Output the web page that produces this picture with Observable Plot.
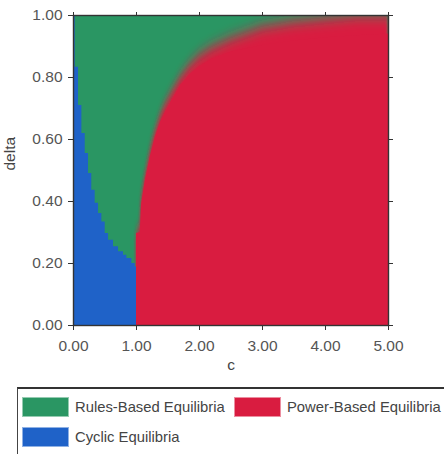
<!DOCTYPE html>
<html>
<head>
<meta charset="utf-8">
<script src="https://cdn.jsdelivr.net/npm/d3@7"></script>
<script src="https://cdn.jsdelivr.net/npm/@observablehq/plot@0.6"></script>
<style>
  html, body { margin: 0; padding: 0; background: #fff; }
  body { width: 444px; height: 454px; position: relative; overflow: hidden; font-family: "Liberation Sans", Arial, sans-serif; }
  #chart { position: absolute; left: 0; top: 0; }
  #legend { position: absolute; left: 17px; top: 387px; width: 460px; height: 90px; border: 1px solid #444; border-top: 2px solid #333; box-sizing: border-box; }
  .item { position: absolute; display: flex; align-items: center; font-size: 14.8px; color: #444; white-space: nowrap; }
  .sw { width: 47px; height: 20px; margin-right: 6px; box-sizing: border-box; border: 1px solid rgba(255,255,255,0.5); }
</style>
</head>
<body>
<div id="chart"></div>
<div id="legend"></div>
<script>
// ---- data ----
const xTicks = [0, 1, 2, 3, 4, 5];
const yTicks = [0, 0.2, 0.4, 0.6, 0.8, 1.0];

// Cyclic region: upper edge (step) for c in [0,1]
const blueC     = [0, 0.027, 0.08, 0.133, 0.186, 0.238, 0.29, 0.344, 0.397, 0.45, 0.503, 0.556, 0.635, 0.714, 0.794, 0.847, 0.926, 0.98, 1.0];
const blueDelta = [1.0, 0.833, 0.71, 0.619, 0.555, 0.49, 0.436, 0.394, 0.361, 0.334, 0.297, 0.275, 0.254, 0.238, 0.227, 0.216, 0.2, 0.189, 0.189];

// Power-based region: solid edge and fuzzy (fade-centre) edge for c in [1,5]
const redC      = [1.0, 1.06, 1.08, 1.14, 1.22, 1.30, 1.38, 1.45, 1.6, 1.7, 1.85, 2.0, 2.2, 2.5, 3.0, 3.5, 4.0, 4.5, 5.0];
const redCore   = [0.297, 0.30, 0.39, 0.468, 0.544, 0.608, 0.655, 0.685, 0.74, 0.775, 0.81, 0.835, 0.86, 0.882, 0.903, 0.918, 0.928, 0.935, 0.94];
const redHalo   = [0.30, 0.31, 0.40, 0.48, 0.56, 0.625, 0.675, 0.71, 0.765, 0.80, 0.84, 0.87, 0.897, 0.925, 0.962, 0.98, 0.99, 1.0, 1.0];

const categories = ["Rules-Based Equilibria", "Power-Based Equilibria", "Cyclic Equilibria"];
const colors = ["#2a9663", "#d91c40", "#1f62c8"];

// ---- build tables ----
const blue = blueC.map((c, i) => ({c, delta: blueDelta[i]}));
const core = redC.map((c, i) => ({c, delta: redCore[i]}));
const halo = redC.map((c, i) => ({c, delta: redHalo[i]}));

const fmt = d3.format(".2f");

const plot = Plot.plot({
  width: 444,
  height: 380,
  marginTop: 15,
  marginLeft: 73,
  marginRight: 56,
  marginBottom: 55,
  style: {fontFamily: "'Liberation Sans', Arial, sans-serif", fontSize: "15.5px", color: "#555", background: "transparent"},
  x: {domain: [0, 5]},
  y: {domain: [0, 1]},
  marks: [
    Plot.frame({fill: colors[0], stroke: null}),
    Plot.areaY(halo, {x: "c", y: "delta", fill: colors[1], clip: true, ariaDescription: "halo"}),
    Plot.areaY(core, {x: "c", y: "delta", fill: colors[1], clip: true}),
    Plot.areaY(blue, {x: "c", y: "delta", fill: colors[2], curve: "step-after", clip: true}),
    Plot.frame({stroke: "#333", strokeWidth: 1.4}),
    Plot.axisX({ticks: xTicks, tickFormat: fmt, tickSize: 5, tickPadding: 9, label: null, anchor: "bottom", fontSize: 15.5, color: "#555", stroke: "#333"}),
    Plot.axisX({ticks: xTicks, tickFormat: () => "", tickSize: 4, label: null, anchor: "top", stroke: "#333"}),
    Plot.axisY({ticks: yTicks, tickFormat: fmt, tickSize: 5, tickPadding: 6, label: null, anchor: "left", fontSize: 15.5, color: "#555", stroke: "#333"}),
    Plot.axisY({ticks: yTicks, tickFormat: () => "", tickSize: 4, label: null, anchor: "right", stroke: "#333"}),
    Plot.text(["c"], {frameAnchor: "bottom", dy: 44, text: d => d, fontSize: 15.5, fill: "#444"}),
    Plot.text(["delta"], {frameAnchor: "left", dx: -63, rotate: -90, text: d => d, fontSize: 15.5, fill: "#444"})
  ]
});

// soft blur on the fuzzy edge of the power-based region
const ns = "http://www.w3.org/2000/svg";
const defs = document.createElementNS(ns, "defs");
const filt = document.createElementNS(ns, "filter");
filt.setAttribute("id", "haloBlurFx");
filt.setAttribute("filterUnits", "userSpaceOnUse");
filt.setAttribute("x", "0");
filt.setAttribute("y", "-60");
filt.setAttribute("width", "444");
filt.setAttribute("height", "480");
const blur = document.createElementNS(ns, "feGaussianBlur");
blur.setAttribute("stdDeviation", "1.8 7");
filt.appendChild(blur);
defs.appendChild(filt);
plot.appendChild(defs);

const areas = Array.from(plot.querySelectorAll('g[aria-label="area"]'));
let hg = plot.querySelector('[aria-description="halo"]') || areas[0];
if (hg) {
  // apply the blur on the path(s) so the group's clip is applied afterwards
  hg.querySelectorAll("path").forEach(p => p.setAttribute("filter", "url(#haloBlurFx)"));
}

document.getElementById("chart").appendChild(plot);

// ---- legend ----
const legend = document.getElementById("legend");
const pos = [{l: 4, t: 8}, {l: 216, t: 8}, {l: 4, t: 38}];
categories.forEach((name, i) => {
  const it = document.createElement("div");
  it.className = "item";
  it.style.left = pos[i].l + "px";
  it.style.top = pos[i].t + "px";
  const sw = document.createElement("div");
  sw.className = "sw";
  sw.style.background = colors[i];
  it.appendChild(sw);
  const tx = document.createElement("span");
  tx.textContent = name;
  it.appendChild(tx);
  legend.appendChild(it);
});
</script>
</body>
</html>
